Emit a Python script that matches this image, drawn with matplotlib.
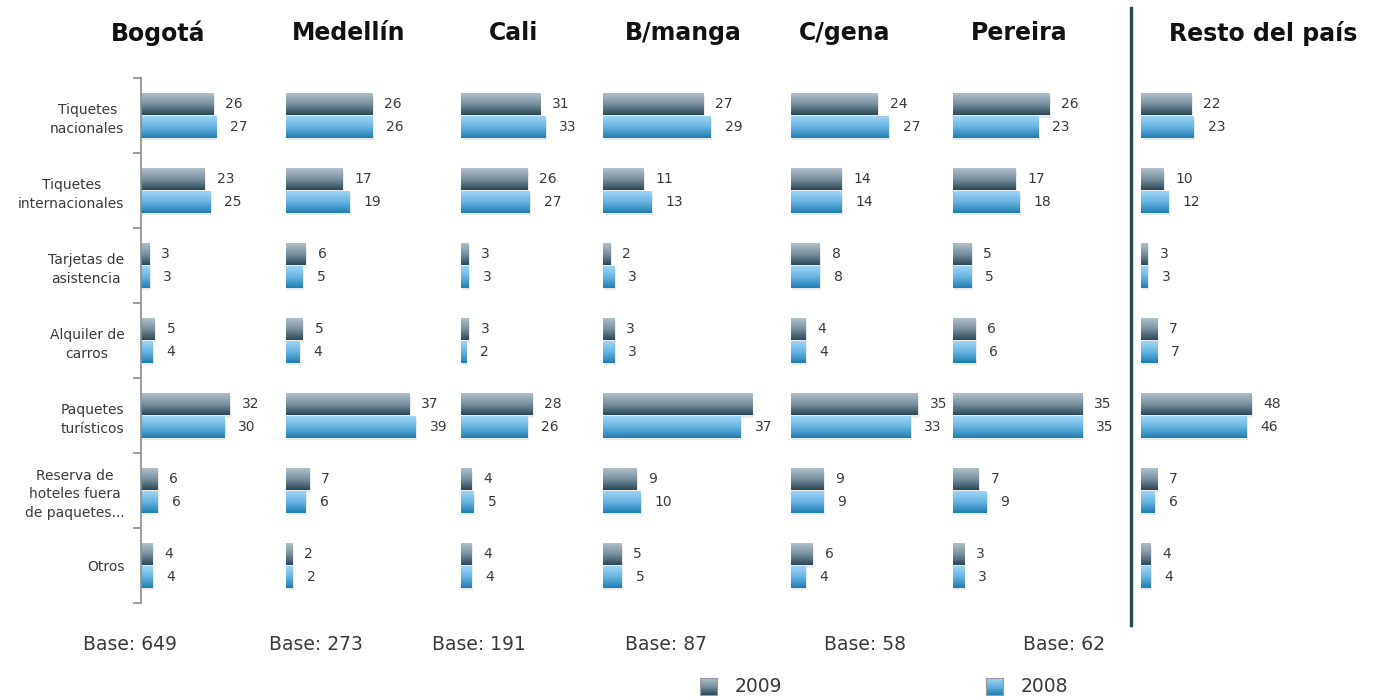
import matplotlib.pyplot as plt
import numpy as np
from matplotlib.colors import LinearSegmentedColormap
from matplotlib.lines import Line2D
from matplotlib.transforms import ScaledTranslation

categorias = ["Tiquetes\nnacionales", "Tiquetes\ninternacionales", "Tarjetas de\nasistencia",
              "Alquiler de\ncarros", "Paquetes\nturísticos",
              "Reserva de\nhoteles fuera\nde paquetes...", "Otros"]
ciudades = ["Bogotá", "Medellín", "Cali", "B/manga", "C/gena", "Pereira", "Resto del país"]

v2009 = [
    [26, 23, 3, 5, 32, 6, 4],
    [26, 17, 6, 5, 37, 7, 2],
    [31, 26, 3, 3, 28, 4, 4],
    [27, 11, 2, 3, 42, 9, 5],
    [24, 14, 8, 4, 35, 9, 6],
    [26, 17, 5, 6, 35, 7, 3],
    [22, 10, 3, 7, 48, 7, 4],
]
v2008 = [
    [27, 25, 3, 4, 30, 6, 4],
    [26, 19, 5, 4, 39, 6, 2],
    [33, 27, 3, 2, 26, 5, 4],
    [29, 13, 3, 3, 37, 10, 5],
    [27, 14, 8, 4, 33, 9, 4],
    [23, 18, 5, 6, 35, 9, 3],
    [23, 12, 3, 7, 46, 6, 4],
]
bases = ["Base: 649", "Base: 273", "Base: 191", "Base: 87", "Base: 58", "Base: 62"]

W, H = 1388, 700
# panel layout in pixels: bar origin, pixels per unit, title centre
x0 = [141, 286, 461, 603, 791, 953, 1141]
ppu = [2.78, 3.33, 2.55, 3.72, 3.62, 3.70, 2.30]
titulo_x = [158, 349, 514, 683, 845, 1019, 1263]
base_x = [130, 316, 479, 666, 865, 1064]
y_top, y_bot = 78, 603
panel_w = 150

cm09 = LinearSegmentedColormap.from_list("g09", ["#b0bfc9", "#7a909e", "#2b4857"])
cm08 = LinearSegmentedColormap.from_list("g08", ["#9fd5f6", "#66b3e2", "#1f7db0"])
grad = np.linspace(0, 1, 64).reshape(-1, 1)

fig = plt.figure(figsize=(W / 100, H / 100), dpi=100)
txt = "#3a3a3a"


def fx(x):
    return x / W


def fy(y):
    return 1 - y / H


def barras(ax, vals, offs, h, cmap, pad):
    y = np.arange(len(vals)) + offs
    sh = ax.transData + ScaledTranslation(1 / 72, -2 / 72, fig.dpi_scale_trans)
    ax.barh(y, vals, height=h, color="#d0d0d0", alpha=0.45, transform=sh, zorder=1)
    for yi, v in zip(y, vals):
        ax.imshow(grad, cmap=cmap, aspect="auto", origin="upper",
                  extent=(0, v, yi + h / 2, yi - h / 2), zorder=2)
        ax.annotate(str(v), (v, yi), xytext=(pad, 0), textcoords="offset points",
                    va="center", ha="left", fontsize=10, color=txt)


h = 0.29
for i, ciudad in enumerate(ciudades):
    ax = fig.add_axes([fx(x0[i]), fy(y_bot), fx(panel_w), (y_bot - y_top) / H])
    barras(ax, v2009[i], -0.15, h, cm09, 8.5)
    barras(ax, v2008[i], 0.15, h, cm08, 10)
    ax.set_xlim(0, panel_w / ppu[i])
    ax.set_ylim(len(categorias) - 0.5, -0.5)
    ax.set_xticks([])
    for s in ["top", "right", "bottom"]:
        ax.spines[s].set_visible(False)
    if i == 0:
        ax.spines["left"].set_color("#8c8c8c")
        ax.spines["left"].set_linewidth(1.2)
        ax.set_yticks(np.arange(len(categorias)))
        ax.set_yticklabels(categorias, fontsize=10, color=txt)
        ax.tick_params(axis="y", which="major", length=0, pad=12)
        for lab in ax.get_yticklabels():
            lab.set_multialignment("center")
            lab.set_linespacing(1.45)
        ax.set_yticks(np.arange(len(categorias) + 1) - 0.5, minor=True)
        ax.tick_params(axis="y", which="minor", length=6, color="#8c8c8c", width=1.2)
    else:
        ax.spines["left"].set_visible(False)
        ax.set_yticks([])
    fig.text(fx(titulo_x[i]), fy(33), ciudad, ha="center", va="center",
             fontsize=17, fontweight="bold", color="#111111")

for bx, b in zip(base_x, bases):
    fig.text(fx(bx), fy(645), b, ha="center", va="center", fontsize=13.5, color=txt)

# separator before "Resto del país"
fig.add_artist(Line2D([fx(1131), fx(1131)], [fy(8), fy(625)], color="#24495a",
                      linewidth=2.4, transform=fig.transFigure))

# legend
for lx, cmap, lbl in [(700, cm09, "2009"), (986, cm08, "2008")]:
    lax = fig.add_axes([fx(lx), fy(695), fx(17), 17 / H])
    lax.imshow(grad, cmap=cmap, aspect="auto")
    for s in lax.spines.values():
        s.set_color("#9a9a9a")
        s.set_linewidth(0.8)
    lax.set_xticks([])
    lax.set_yticks([])
    fig.text(fx(lx + 35), fy(686), lbl, ha="left", va="center", fontsize=13.5, color=txt)

fig.savefig("out.png", dpi=100, facecolor="white")
